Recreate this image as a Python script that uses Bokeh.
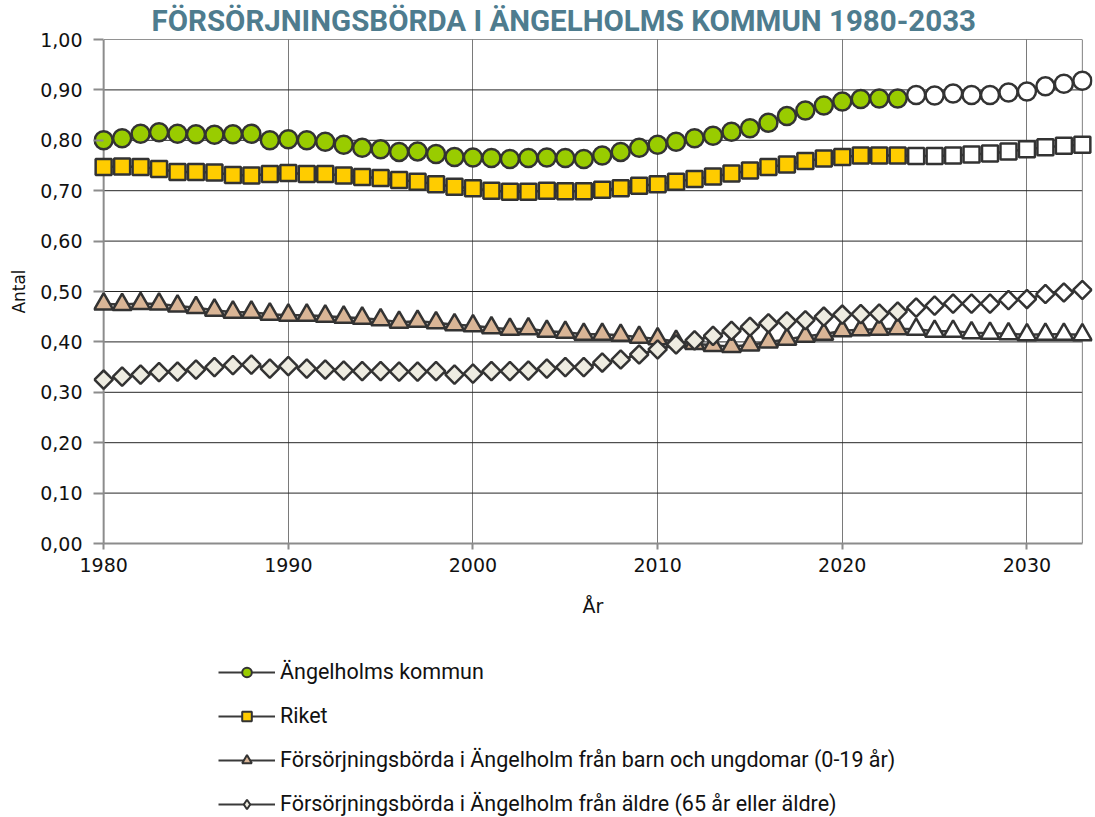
import math
from bokeh.plotting import figure
from bokeh.layouts import column
from bokeh.models import (Range1d, FixedTicker, CustomJSTickFormatter,
                          Legend, LegendItem)
from bokeh.embed import file_html
from bokeh.resources import INLINE

# ---------------- data ----------------
years = list(range(1980, 2034))
last_actual_year = 2023

title_text = "FÖRSÖRJNINGSBÖRDA I ÄNGELHOLMS KOMMUN 1980-2033"
x_label = "År"
y_label = "Antal"

series_names = [
    "Ängelholms kommun",
    "Riket",
    "Försörjningsbörda i Ängelholm från barn och ungdomar (0-19 år)",
    "Försörjningsbörda i Ängelholm från äldre (65 år eller äldre)",
]

kommun = [0.800, 0.804, 0.813, 0.816, 0.813, 0.812, 0.811, 0.812, 0.813, 0.800,
          0.802, 0.800, 0.797, 0.791, 0.785, 0.782, 0.777, 0.778, 0.773, 0.767,
          0.766, 0.765, 0.763, 0.765, 0.766, 0.765, 0.763, 0.770, 0.777, 0.785,
          0.791, 0.797, 0.804, 0.809, 0.817, 0.824, 0.835, 0.848, 0.859, 0.869,
          0.877, 0.882, 0.883, 0.883, 0.890, 0.889, 0.893, 0.890, 0.890, 0.895,
          0.897, 0.907, 0.912, 0.918]

riket = [0.747, 0.748, 0.747, 0.743, 0.737, 0.737, 0.736, 0.731, 0.730, 0.733,
         0.735, 0.733, 0.733, 0.730, 0.727, 0.725, 0.721, 0.718, 0.713, 0.708,
         0.705, 0.700, 0.698, 0.698, 0.700, 0.699, 0.699, 0.702, 0.705, 0.710,
         0.713, 0.718, 0.723, 0.728, 0.734, 0.740, 0.747, 0.752, 0.759, 0.764,
         0.767, 0.770, 0.770, 0.770, 0.769, 0.769, 0.770, 0.772, 0.774, 0.778,
         0.782, 0.786, 0.789, 0.791]

unga = [0.475, 0.474, 0.476, 0.475, 0.471, 0.468, 0.463, 0.459, 0.459, 0.455,
        0.453, 0.453, 0.451, 0.449, 0.447, 0.444, 0.439, 0.441, 0.438, 0.434,
        0.432, 0.428, 0.425, 0.426, 0.421, 0.419, 0.415, 0.415, 0.413, 0.409,
        0.406, 0.401, 0.397, 0.393, 0.391, 0.394, 0.400, 0.405, 0.411, 0.415,
        0.422, 0.424, 0.425, 0.426, 0.425, 0.421, 0.421, 0.418, 0.417, 0.416,
        0.414, 0.415, 0.415, 0.414]

aldre = [0.325, 0.331, 0.335, 0.340, 0.341, 0.345, 0.350, 0.354, 0.355, 0.347,
         0.352, 0.347, 0.345, 0.343, 0.342, 0.342, 0.341, 0.341, 0.342, 0.335,
         0.337, 0.342, 0.342, 0.343, 0.347, 0.350, 0.350, 0.359, 0.365, 0.375,
         0.385, 0.395, 0.403, 0.412, 0.422, 0.430, 0.437, 0.441, 0.443, 0.450,
         0.454, 0.455, 0.456, 0.460, 0.468, 0.472, 0.476, 0.476, 0.476, 0.483,
         0.485, 0.495, 0.498, 0.503]

xticks = [1980, 1990, 2000, 2010, 2020, 2030]
yticks = [0.0, 0.1, 0.2, 0.3, 0.4, 0.5, 0.6, 0.7, 0.8, 0.9, 1.0]

# ---------------- styles ----------------
TITLE_COLOR = "#4E7C8E"
EDGE = "#333333"
LINE = "#3a3a3a"
AXIS_GRAY = "#8c8c8c"
TICK_FONT = "DejaVu Sans"
TITLE_FONT = "Roboto"
LEGEND_FONT = "Roboto"

styles = [
    dict(marker="circle", size=18, angle=0.0, fill="#99CC00",
         lmarker="circle", lsize=10),
    dict(marker="square", size=16, angle=0.0, fill="#FFCC00",
         lmarker="square", lsize=10),
    dict(marker="triangle", size=19, angle=0.0, fill="#D9B596",
         lmarker="triangle", lsize=11),
    dict(marker="square", size=13, angle=math.pi / 4, fill="#EEECE1",
         lmarker="diamond", lsize=12),
]

p = figure(width=1095, height=640, output_backend="svg", toolbar_location=None,
           x_range=Range1d(1979.45, 2033.55), y_range=Range1d(0, 1),
           min_border_left=93, min_border_right=3, min_border_top=37,
           min_border_bottom=97)
p.outline_line_color = None
p.background_fill_color = "white"
p.border_fill_color = "white"

# title
p.title.text = title_text
p.title.align = "left"
p.title.offset = 58
p.title.standoff = 3
p.title.text_font = TITLE_FONT
p.title.text_font_style = "bold"
p.title.text_font_size = "29.5px"
p.title.text_color = TITLE_COLOR

# grid
p.ygrid.visible = False
p.xgrid.ticker = FixedTicker(ticks=xticks[1:])
p.xgrid.grid_line_color = "#7a7a7a"
p.xgrid.grid_line_width = 1

p.segment(x0=[years[0]] * (len(yticks) - 1), x1=[years[-1]] * (len(yticks) - 1),
          y0=yticks[1:], y1=yticks[1:], line_color="#262626", line_width=1)
p.segment(x0=[years[-1]], x1=[years[-1]], y0=[yticks[0]], y1=[yticks[-1]],
          line_color="#808080", line_width=1)
# y-axis line at the first year
p.segment(x0=[years[0]], x1=[years[0]], y0=[yticks[0]], y1=[yticks[-1]],
          line_color=AXIS_GRAY, line_width=2)

# axes
p.xaxis.ticker = FixedTicker(ticks=xticks)
p.xaxis.bounds = (years[0], years[-1])
p.xaxis.axis_line_color = AXIS_GRAY
p.xaxis.axis_line_width = 2
p.xaxis.major_tick_line_color = AXIS_GRAY
p.xaxis.major_tick_line_width = 2
p.xaxis.major_tick_out = 6
p.xaxis.major_tick_in = 0
p.xaxis.minor_tick_line_color = None
p.xaxis.major_label_standoff = 8
p.xaxis.major_label_text_font = TICK_FONT
p.xaxis.major_label_text_font_size = "19px"
p.xaxis.major_label_text_color = "#111111"
p.xaxis.axis_label = x_label
p.xaxis.axis_label_text_font = TICK_FONT
p.xaxis.axis_label_text_font_size = "19px"
p.xaxis.axis_label_text_font_style = "normal"
p.xaxis.axis_label_text_color = "#111111"
p.xaxis.axis_label_standoff = 20

p.yaxis.ticker = FixedTicker(ticks=yticks)
p.yaxis.formatter = CustomJSTickFormatter(code="return tick.toFixed(2).replace('.', ',');")
p.yaxis.axis_line_color = None
p.yaxis.major_tick_line_color = AXIS_GRAY
p.yaxis.major_tick_line_width = 2
p.yaxis.major_tick_out = 0
p.yaxis.major_tick_in = 10
p.yaxis.minor_tick_line_color = None
p.yaxis.major_label_standoff = 11
p.yaxis.major_label_text_font = TICK_FONT
p.yaxis.major_label_text_font_size = "19px"
p.yaxis.major_label_text_color = "#111111"
p.yaxis.axis_label = y_label
p.yaxis.axis_label_text_font = TICK_FONT
p.yaxis.axis_label_text_font_size = "17px"
p.yaxis.axis_label_text_font_style = "normal"
p.yaxis.axis_label_text_color = "#111111"
p.yaxis.axis_label_standoff = 8

# series
all_series = [kommun, riket, unga, aldre]
n_hist = years.index(last_actual_year) + 1

# legend figure (below the chart); its frame is aligned with the chart frame
lf = figure(width=1095, height=177, output_backend="svg", toolbar_location=None,
            x_range=Range1d(0, 1), y_range=Range1d(0, 1),
            min_border_left=0, min_border_right=0, min_border_top=0,
            min_border_bottom=0)
lf.axis.visible = False
lf.grid.visible = False
lf.outline_line_color = None
lf.border_fill_color = "white"

# proxy renderers for the legend keys: one point each, placed outside lf's view
proxy_x = [-1.0]
proxy_y = [-1.0]

legend_items = []
for name, vals, st in zip(series_names, all_series, styles):
    p.line(years, vals, line_color=LINE, line_width=2.5)
    p.scatter(years[:n_hist], vals[:n_hist], marker=st["marker"], size=st["size"],
              angle=st["angle"], fill_color=st["fill"], line_color=EDGE, line_width=2.5)
    p.scatter(years[n_hist:], vals[n_hist:], marker=st["marker"], size=st["size"],
              angle=st["angle"], fill_color="white", line_color=EDGE, line_width=2.5)
    lr = lf.line(proxy_x, proxy_y, line_color=LINE, line_width=2)
    sr = lf.scatter(proxy_x, proxy_y, marker=st["lmarker"], size=st["lsize"],
                    fill_color=st["fill"], line_color=EDGE, line_width=2)
    legend_items.append(LegendItem(label=name, renderers=[lr, sr]))

legend = Legend(items=legend_items, location=(125, 1), orientation="vertical",
                glyph_width=57, glyph_height=24, label_height=24, spacing=19,
                label_standoff=5, padding=0, margin=0,
                border_line_color=None, background_fill_alpha=0,
                label_text_font=LEGEND_FONT, label_text_font_size="21.5px",
                label_text_color="#111111")
lf.add_layout(legend)

layout = column(p, lf, spacing=0)
open("out.html", "w").write(file_html(layout, INLINE))
